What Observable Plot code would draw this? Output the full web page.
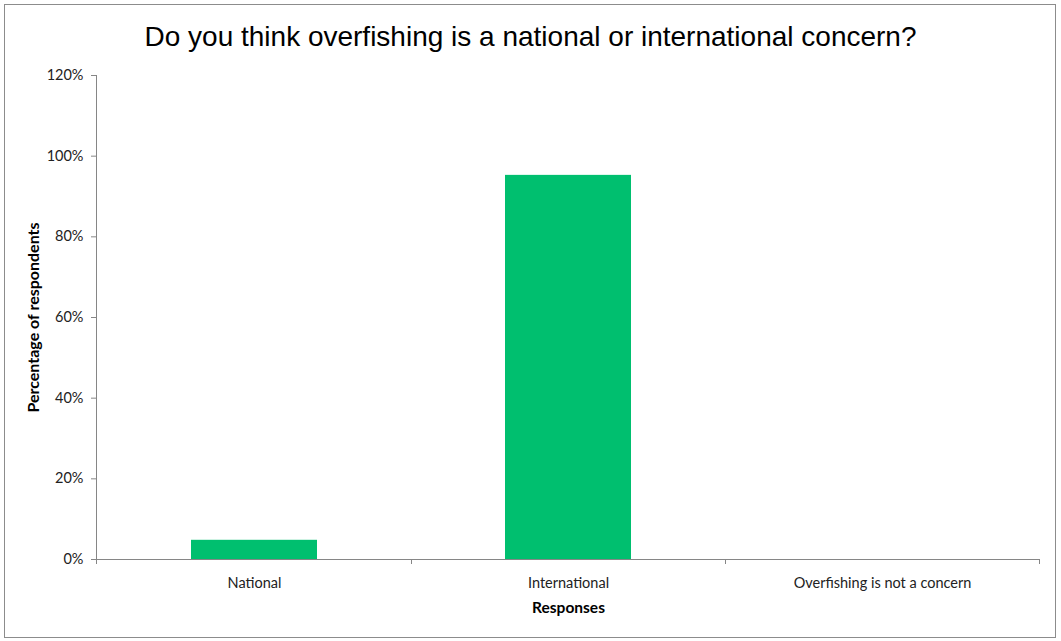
<!DOCTYPE html>
<html>
<head>
<meta charset="utf-8">
<script src="https://cdn.jsdelivr.net/npm/d3@7"></script>
<script src="https://cdn.jsdelivr.net/npm/@observablehq/plot@0.6"></script>
<style>
  html, body { margin: 0; padding: 0; background: #fff; }
  #wrap { position: relative; width: 1061px; height: 641px; }
  #frame { position: absolute; left: 4px; top: 4px; width: 1052px; height: 634px; border: 1px solid #8c8c8c; box-sizing: border-box; pointer-events: none; }
  #title { position: absolute; left: 0; width: 1061px; top: 20px; text-align: center; font-family: "Liberation Sans", Arial, sans-serif; font-size: 28px; color: #000; line-height: 34px; }
  #chart { position: absolute; left: 0; top: 0; }
</style>
</head>
<body>
<div id="wrap">
  <div id="chart"></div>
  <div id="title">Do you think overfishing is a national or international concern?</div>
  <div id="frame"></div>
</div>
<script>
const categories = ["National", "International", "Overfishing is not a concern"];
const values = [0.0476, 0.9524, 0];
const yTicks = [0, 0.2, 0.4, 0.6, 0.8, 1.0, 1.2];
const yLabel = "Percentage of respondents";
const xLabel = "Responses";

const data = categories.map((c, i) => ({category: c, value: values[i]}));
const axisColor = "#868686";

// category boundary ticks drawn from the band scale
function boundaryTicks(index, scales, values, dimensions) {
  const sx = scales.x, sy = scales.y;
  const bw = typeof sx.bandwidth === "function" ? sx.bandwidth() : sx.bandwidth;
  const half = bw * 0.75; // half of the inner padding (0.6 step) => 0.3 step = 0.75 bandwidth
  const y0 = sy(0);
  const g = d3.create("svg:g").attr("stroke", axisColor).attr("stroke-width", 1);
  const xs = [];
  categories.forEach((c, i) => {
    const left = sx(c) - half;
    if (i === 0) xs.push(left);
    xs.push(sx(c) + bw + half);
  });
  xs.forEach(x => g.append("line").attr("x1", x).attr("x2", x).attr("y1", y0).attr("y2", y0 + 5));
  return g.node();
}

const plot = Plot.plot({
  width: 1061,
  height: 641,
  marginLeft: 96,
  marginRight: 21,
  marginTop: 75,
  marginBottom: 82,
  style: { fontFamily: "Lato, 'Open Sans', sans-serif", fontSize: "14.5px", color: "#222", background: "transparent" },
  x: { domain: categories, paddingInner: 0.6, paddingOuter: 0.3, label: null },
  y: { domain: [0, 1.2], label: null },
  marks: [
    Plot.barY(data, { x: "category", y: "value", fill: "#00BF6F" }),
    Plot.axisY({ ticks: yTicks, tickFormat: d3.format(".0%"), tickSize: 5, tickPadding: 8, stroke: axisColor, label: null, fontSize: 14.5 }),
    Plot.axisX({ tickSize: 0, tickPadding: 18, label: null, fontSize: 14.5 }),
    Plot.frame({ anchor: "left", stroke: axisColor }),
    Plot.ruleY([0], { stroke: axisColor }),
    boundaryTicks,
    Plot.text([yLabel], { frameAnchor: "left", textAnchor: "middle", dx: -63, rotate: -90, fontWeight: "bold", fontSize: 16, fill: "#000" }),
    Plot.text([xLabel], { frameAnchor: "bottom", textAnchor: "middle", dy: 53, fontWeight: "bold", fontSize: 15.5, fill: "#000" })
  ]
});
document.getElementById("chart").appendChild(plot);
</script>
</body>
</html>
